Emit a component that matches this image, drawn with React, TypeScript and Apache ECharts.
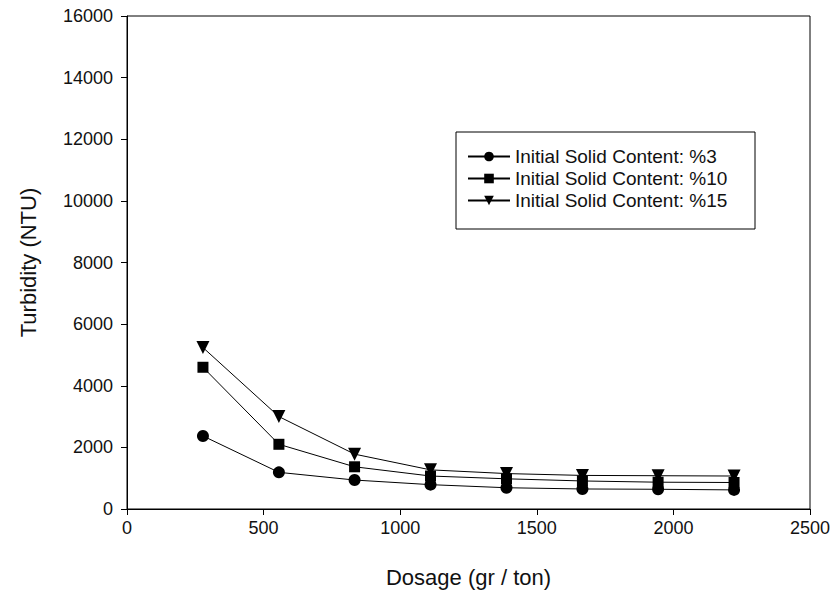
import React, { useEffect, useRef } from "react";
import * as echarts from "echarts";

const dosage = [278, 556, 833, 1111, 1389, 1667, 1944, 2222];
const solid3 = [2370, 1190, 940, 790, 690, 650, 640, 620];
const solid10 = [4600, 2100, 1370, 1070, 980, 910, 870, 860];
const solid15 = [5240, 3000, 1780, 1270, 1150, 1090, 1080, 1070];
const seriesNames = [
  "Initial Solid Content: %3",
  "Initial Solid Content: %10",
  "Initial Solid Content: %15",
];

const FONT = "Liberation Sans, Arial, sans-serif";

export default function App() {
  const ref = useRef<HTMLDivElement>(null);
  useEffect(() => {
    if (!ref.current) return;
    const chart = echarts.init(ref.current, undefined, { renderer: "svg" });
    const pairs = (ys: number[]) => dosage.map((x, i) => [x, ys[i]]);
    const common = {
      type: "line",
      color: "#000",
      lineStyle: { color: "#000", width: 1 },
      itemStyle: { color: "#000" },
      z: 3,
    };
    chart.setOption({
      animation: false,
      backgroundColor: "#fff",
      textStyle: { fontFamily: FONT },
      grid: {
        left: 127,
        right: 25,
        top: 16,
        bottom: 87,
        show: true,
        borderColor: "#000",
        borderWidth: 1,
      },
      legend: {
        left: 467,
        top: 147,
        orient: "vertical",
        itemWidth: 42,
        itemHeight: 12,
        itemGap: 3,
        padding: 0,
        textStyle: { fontSize: 19, color: "#111", fontFamily: FONT },
        data: seriesNames,
      },
      graphic: [
        {
          type: "rect",
          shape: { x: 456, y: 132, width: 299, height: 97 },
          style: { fill: "none", stroke: "#000", lineWidth: 1 },
          z: 1,
        },
      ],
      xAxis: {
        type: "value",
        min: 0,
        max: 2500,
        interval: 500,
        name: "Dosage (gr / ton)",
        nameLocation: "middle",
        nameGap: 57,
        nameTextStyle: { fontSize: 22, color: "#111", fontFamily: FONT },
        axisLine: { show: true, lineStyle: { color: "#000" } },
        axisTick: { show: true, inside: false, length: 6, lineStyle: { color: "#000" } },
        axisLabel: { fontSize: 18, color: "#111", margin: 10, fontFamily: FONT, formatter: (v: number) => String(v) },
        splitLine: { show: false },
      },
      yAxis: {
        type: "value",
        min: 0,
        max: 16000,
        interval: 2000,
        name: "Turbidity (NTU)",
        nameLocation: "middle",
        nameGap: 88,
        nameTextStyle: { fontSize: 22, color: "#111", fontFamily: FONT },
        axisLine: { show: true, lineStyle: { color: "#000" } },
        axisTick: { show: true, inside: false, length: 6, lineStyle: { color: "#000" } },
        axisLabel: { fontSize: 18, color: "#111", margin: 14, fontFamily: FONT, formatter: (v: number) => String(v) },
        splitLine: { show: false },
      },
      series: [
        { ...common, name: seriesNames[0], data: pairs(solid3), symbol: "circle", symbolSize: 12 },
        { ...common, name: seriesNames[1], data: pairs(solid10), symbol: "rect", symbolSize: 11 },
        {
          ...common,
          name: seriesNames[2],
          data: pairs(solid15),
          symbol: "triangle",
          symbolRotate: 180,
          symbolSize: 13,
        },
      ],
    });
    return () => chart.dispose();
  }, []);
  return <div ref={ref} style={{ width: 835, height: 596, position: "absolute", left: 0, top: 0 }} />;
}
